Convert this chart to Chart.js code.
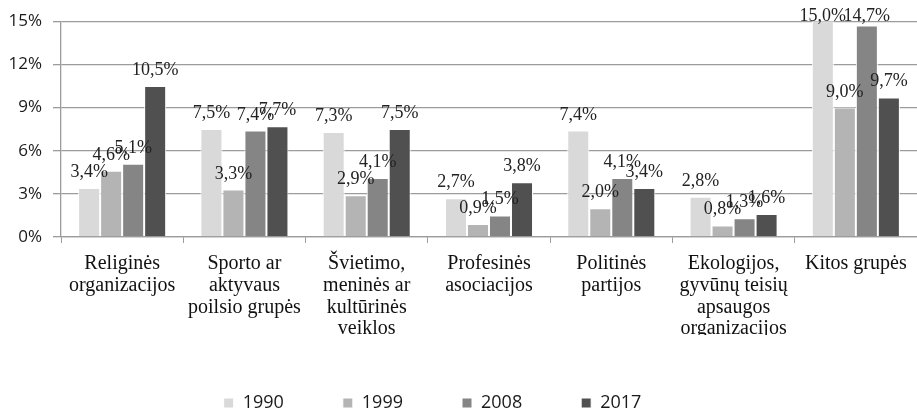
<!DOCTYPE html>
<html lang="lt">
<head>
    <meta charset="UTF-8">
    <title>Dalyvavimas organizacijose</title>
    <script src="https://cdn.jsdelivr.net/npm/chart.js"></script>
    <style>
        body { margin: 0; background: #fff; }
    </style>
</head>
<body>
    <canvas id="chart" width="917" height="412"></canvas>

    <script>
        // category labels, split into lines like in the original
        const categories = [
            ['Religinės', 'organizacijos'],
            ['Sporto ar', 'aktyvaus', 'poilsio grupės'],
            ['Švietimo,', 'meninės ar', 'kultūrinės', 'veiklos'],
            ['Profesinės', 'asociacijos'],
            ['Politinės', 'partijos'],
            ['Ekologijos,', 'gyvūnų teisių', 'apsaugos', 'organizacijos'],
            ['Kitos grupės']
        ];
        const years = ['1990', '1999', '2008', '2017'];

        const v1990 = [3.4, 7.5, 7.3, 2.7, 7.4, 2.8, 15.0];
        const v1999 = [4.6, 3.3, 2.9, 0.9, 2.0, 0.8, 9.0];
        const v2008 = [5.1, 7.4, 4.1, 1.5, 4.1, 1.3, 14.7];
        const v2017 = [10.5, 7.7, 7.5, 3.8, 3.4, 1.6, 9.7];

        const yTicks = [0, 3, 6, 9, 12, 15];
        const colors = ['#d9d9d9', '#b4b4b4', '#858585', '#505050'];

        const gridColor = '#9c9c9c';

        // value labels above the bars, "3,4%" style
        const barLabels = {
            id: 'barLabels',
            afterDatasetsDraw(chart) {
                const ctx = chart.ctx;
                ctx.save();
                ctx.font = '18px "Liberation Serif"';
                ctx.fillStyle = '#222';
                ctx.textAlign = 'center';
                ctx.textBaseline = 'alphabetic';
                chart.data.datasets.forEach((ds, i) => {
                    chart.getDatasetMeta(i).data.forEach((bar, j) => {
                        const y = Math.max(bar.y - 11, chart.chartArea.top);
                        ctx.fillText(ds.data[j].toFixed(1).replace('.', ',') + '%', bar.x, y);
                    });
                });
                ctx.restore();
            }
        };

        // legend sits a bit left of center in the original
        const legendShift = {
            id: 'legendShift',
            afterLayout(chart) {
                chart.legend.left -= 26;
                chart.legend.right -= 26;
            }
        };

        const seriesValues = [v1990, v1999, v2008, v2017];

        new Chart(document.getElementById('chart'), {
            type: 'bar',
            data: {
                labels: categories,
                datasets: years.map((y, i) => ({
                    label: y,
                    data: seriesValues[i],
                    backgroundColor: colors[i],
                    borderColor: '#fff',
                    borderWidth: 1,
                    barPercentage: 1,
                    categoryPercentage: 0.72
                }))
            },
            options: {
                responsive: false,
                animation: false,
                layout: { padding: { top: 21, right: 0, bottom: -10, left: 0 } },
                plugins: {
                    tooltip: { enabled: false },
                    legend: {
                        position: 'bottom',
                        labels: {
                            boxWidth: 10,
                            boxHeight: 10,
                            padding: 59,
                            color: '#1a1a1a',
                            font: { family: '"Open Sans"', size: 18 }
                        }
                    }
                },
                scales: {
                    x: {
                        grid: {
                            drawOnChartArea: false,
                            drawTicks: true,
                            tickLength: 6,
                            offset: true,
                            color: gridColor
                        },
                        border: { color: gridColor, width: 1.3 },
                        ticks: {
                            padding: 10,
                            color: '#111',
                            maxRotation: 0,
                            autoSkip: false,
                            font: { family: '"Liberation Serif"', size: 20, lineHeight: 1.085 }
                        },
                        afterFit(scale) { scale.height = 98; }
                    },
                    y: {
                        min: 0,
                        max: 15,
                        afterBuildTicks(scale) {
                            scale.ticks = yTicks.map(v => ({ value: v }));
                        },
                        grid: { color: gridColor, lineWidth: 1.3, tickLength: 8 },
                        border: { color: gridColor, width: 1.3 },
                        ticks: {
                            padding: 11,
                            color: '#1a1a1a',
                            font: { family: '"Open Sans"', size: 17 },
                            callback: v => v + '%'
                        },
                        afterFit(scale) { scale.width = 61; }
                    }
                }
            },
            plugins: [barLabels, legendShift]
        });
    </script>
</body>
</html>
